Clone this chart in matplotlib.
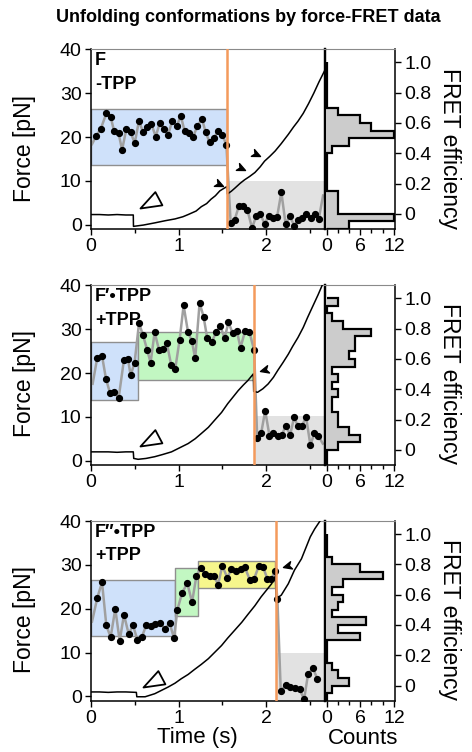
import numpy as np
import matplotlib
matplotlib.use('Agg')
import matplotlib.pyplot as plt
from matplotlib.path import Path
from matplotlib.markers import MarkerStyle
from matplotlib.transforms import Affine2D

plt.rcParams['font.family'] = ['Liberation Sans', 'DejaVu Sans']

# ---- force traces (s, pN) ----
top_force_t = [0.0, 0.1, 0.2, 0.3, 0.4, 0.485, 0.487, 0.6, 0.73, 0.85, 0.96, 1.05, 1.11, 1.2,
               1.26, 1.32, 1.37, 1.42, 1.47, 1.51, 1.553, 1.556, 1.6, 1.64, 1.7, 1.75, 1.81,
               1.87, 1.93, 1.98, 2.04, 2.1, 2.17, 2.25, 2.31, 2.36, 2.42, 2.48, 2.54, 2.6, 2.66]
top_force = [2.3, 2.3, 2.2, 2.3, 2.2, 2.2, -0.4, -0.1, 0.4, 0.9, 1.3, 1.8, 2.3, 3.1,
             4.1, 4.8, 5.8, 6.6, 7.7, 8.2, 8.7, 7.0, 7.6, 8.3, 9.4, 10.2, 11.0,
             11.9, 13.2, 14.5, 15.6, 16.8, 18.5, 20.6, 22.3, 23.6, 25.4, 27.6, 30.0, 32.6, 35.0]

mid_force_t = [0.0, 0.1, 0.2, 0.3, 0.4, 0.485, 0.49, 0.54, 0.63, 0.73, 0.82, 0.92, 1.01, 1.11,
               1.19, 1.26, 1.34, 1.41, 1.49, 1.56, 1.62, 1.68, 1.74, 1.79, 1.852, 1.856, 1.9,
               1.96, 2.02, 2.08, 2.13, 2.19, 2.25, 2.3, 2.36, 2.42, 2.47, 2.53, 2.59, 2.635]
mid_force = [2.0, 2.0, 2.0, 1.9, 2.0, 2.0, 0.5, 0.3, 0.5, 0.9, 1.4, 2.0, 2.9, 3.9,
             5.0, 6.2, 7.6, 9.2, 11.0, 13.0, 14.5, 16.0, 17.3, 18.3, 19.8, 15.8, 15.6,
             16.4, 17.5, 19.0, 20.6, 22.4, 24.3, 26.1, 28.1, 30.4, 32.7, 35.3, 37.9, 40.0]

bot_force_t = [0.0, 0.1, 0.2, 0.3, 0.4, 0.52, 0.525, 0.62, 0.73, 0.8, 0.88, 0.96, 1.03, 1.11,
               1.18, 1.26, 1.34, 1.41, 1.49, 1.56, 1.64, 1.72, 1.79, 1.87, 1.94, 2.0, 2.06,
               2.108, 2.112, 2.17, 2.25, 2.32, 2.4, 2.5, 2.55, 2.61]
bot_force = [1.0, 1.0, 0.9, 1.0, 1.0, 0.9, -0.1, -0.1, 0.6, 1.3, 2.1, 3.0, 4.0, 5.0,
             6.1, 7.3, 8.6, 10.0, 11.6, 13.3, 15.1, 16.9, 18.7, 20.7, 22.7, 24.2, 25.7,
             27.6, 22.3, 23.1, 25.7, 28.8, 31.4, 36.4, 38.2, 40.0]

# ---- FRET time traces ----
top_t = [0.015, 0.064, 0.114, 0.178, 0.227, 0.265, 0.318, 0.357, 0.406, 0.455, 0.501, 0.550,
         0.596, 0.645, 0.691, 0.740, 0.786, 0.835, 0.881, 0.930, 0.983, 1.025, 1.070, 1.116,
         1.169, 1.215, 1.268, 1.309, 1.355, 1.404, 1.450, 1.499, 1.545, 1.594, 1.640, 1.689,
         1.735, 1.784, 1.837, 1.886, 1.932, 1.981, 2.027, 2.076, 2.122, 2.171, 2.220, 2.266,
         2.316, 2.361, 2.410, 2.456, 2.505, 2.551, 2.597, 2.646]
top_fret = [0.46, 0.516, 0.560, 0.663, 0.641, 0.549, 0.531, 0.422, 0.560, 0.538, 0.466, 0.615,
            0.538, 0.576, 0.593, 0.510, 0.598, 0.560, 0.523, 0.615, 0.582, 0.648, 0.545, 0.534,
            0.510, 0.582, 0.626, 0.538, 0.472, 0.501, 0.545, 0.523, 0.455, -0.062, -0.038, 0.055,
            0.055, 0.028, -0.095, -0.011, -0.004, -0.066, -0.011, -0.026, -0.022, 0.143, -0.070,
            -0.011, -0.077, -0.040, -0.029, 0.000, -0.029, -0.004, -0.033, 0.121]

mid_t = [0.022, 0.075, 0.129, 0.174, 0.220, 0.265, 0.318, 0.379, 0.424, 0.455, 0.500, 0.550,
         0.595, 0.644, 0.682, 0.728, 0.777, 0.823, 0.868, 0.917, 0.963, 1.012, 1.058, 1.107,
         1.152, 1.190, 1.240, 1.285, 1.327, 1.380, 1.429, 1.475, 1.524, 1.569, 1.617, 1.664,
         1.706, 1.759, 1.808, 1.861, 1.896, 1.941, 1.987, 2.036, 2.081, 2.131, 2.176, 2.222,
         2.271, 2.316, 2.358, 2.404, 2.453, 2.502, 2.548, 2.593, 2.643]
mid_fret = [0.436, 0.609, 0.620, 0.469, 0.374, 0.385, 0.341, 0.596, 0.598, 0.492, 0.576, 0.836,
            0.758, 0.658, 0.576, 0.776, 0.662, 0.665, 0.702, 0.558, 0.536, 0.725, 0.953, 0.780,
            0.718, 0.603, 0.969, 0.880, 0.736, 0.714, 0.776, 0.820, 0.736, 0.842, 0.769, 0.785,
            0.674, 0.787, 0.776, 0.658, 0.077, 0.110, 0.258, 0.092, 0.114, 0.092, 0.099, 0.159,
            0.099, 0.214, 0.159, 0.159, 0.214, 0.030, 0.114, 0.092, 0.041]

bot_t = [0.015, 0.076, 0.129, 0.178, 0.227, 0.280, 0.330, 0.379, 0.432, 0.482, 0.531, 0.584,
         0.634, 0.683, 0.736, 0.793, 0.843, 0.899, 0.949, 0.987, 1.040, 1.100, 1.154, 1.203,
         1.252, 1.305, 1.355, 1.404, 1.450, 1.499, 1.556, 1.602, 1.659, 1.708, 1.754, 1.811,
         1.860, 1.913, 1.963, 2.012, 2.058, 2.096, 2.126, 2.164, 2.220, 2.274, 2.323, 2.380,
         2.430, 2.475, 2.532, 2.582]
bot_fret = [0.422, 0.581, 0.681, 0.397, 0.319, 0.506, 0.295, 0.467, 0.341, 0.397, 0.302, 0.323,
            0.401, 0.394, 0.405, 0.411, 0.374, 0.411, 0.312, 0.500, 0.610, 0.677, 0.549, 0.721,
            0.776, 0.738, 0.721, 0.725, 0.666, 0.791, 0.710, 0.770, 0.754, 0.770, 0.783, 0.699,
            0.703, 0.787, 0.783, 0.703, 0.703, 0.754, 0.571, -0.034, 0.003, -0.012, -0.014,
            -0.025, -0.091, 0.076, 0.114, 0.041]

# ---- FRET histograms ----
hist_edges = [-0.10, -0.05, 0.00, 0.05, 0.10, 0.15, 0.20, 0.25, 0.30, 0.35, 0.40, 0.45,
              0.50, 0.55, 0.60, 0.65, 0.70, 0.75, 0.80, 0.85, 0.90, 0.95, 1.00]
top_counts = [4, 12, 2, 2, 2, 0, 0, 0, 0, 0, 1, 4, 12, 8, 6, 2, 0, 0, 0, 0, 0, 0]
mid_counts = [0, 0, 2, 6, 4, 2, 2, 1, 1, 2, 1, 2, 1, 5, 4, 5, 5, 8, 3, 1, 0, 2]
bot_counts = [0, 1, 4, 2, 1, 0, 0, 0, 6, 2, 7, 1, 2, 3, 1, 3, 10, 6, 1, 0, 0, 0]

# ---- states (t start, t end, FRET low, FRET high), rupture times ----
top_states = [(0.0, 1.553, 0.323, 0.692, 'blue')]
mid_states = [(0.0, 0.538, 0.332, 0.709, 'blue'), (0.538, 1.854, 0.463, 0.780, 'green')]
bot_states = [(0.0, 0.964, 0.328, 0.699, 'blue'), (0.964, 1.222, 0.456, 0.776, 'green'),
              (1.222, 2.100, 0.644, 0.820, 'yellow')]
unfolded_top = [0.215, 0.221, 0.217]
ruptures = [1.553, 1.854, 2.11]

# arrowheads: open one marks the start of pulling, filled ones mark force features
open_tips = [(0.558, 3.9), (0.558, 3.3), (0.596, 2.1)]
filled_tips = [[(1.507, 8.8), (1.754, 12.5), (1.925, 15.7)], [(1.925, 20.4)], [(2.19, 29.6)]]
filled_angle = [-25, 195, 195]

labels = [('F', '-TPP'), ('F\u2032\u2022TPP', '+TPP'), ('F\u2033\u2022TPP', '+TPP')]

state_colors = {'blue': '#cfe1fa', 'green': '#c2f7c2', 'yellow': '#f6f68c'}

T_MAX = 2.668
F_LIM = (-1.0, 40.1)
E_LIM = (-0.1, 1.088)


def arrow_marker(angle, notch):
    if notch:
        verts = [(0, 0), (-1, 0.45), (-0.72, 0), (-1, -0.45), (0, 0)]
    else:
        verts = [(0, 0), (-1, 0.36), (-1, -0.36), (0, 0)]
    codes = [Path.MOVETO] + [Path.LINETO] * (len(verts) - 2) + [Path.CLOSEPOLY]
    return MarkerStyle(Path(verts, codes), transform=Affine2D().rotate_deg(angle))


fig = plt.figure(figsize=(4.72, 7.52), dpi=100)
W, H = 472.0, 752.0

panel_top_px = [49.0, 285.0, 520.7]
panel_h_px = 180.0
main_l, main_r, hist_r = 90.7, 325.0, 395.0

forces = [(top_force_t, top_force), (mid_force_t, mid_force), (bot_force_t, bot_force)]
frets = [(top_t, top_fret, slice(1, -1)), (mid_t, mid_fret, slice(1, -1)), (bot_t, bot_fret, slice(1, None))]
counts = [top_counts, mid_counts, bot_counts]
states = [top_states, mid_states, bot_states]

gray_spine = '#8a8a8a'
TICK_FS = 14

for i in range(3):
    top_px = panel_top_px[i]
    b = 1 - (top_px + panel_h_px) / H
    h = panel_h_px / H
    ax = fig.add_axes([main_l / W, b, (main_r - main_l) / W, h])
    ax2 = ax.twinx()
    hax = fig.add_axes([main_r / W, b, (hist_r - main_r) / W, h])

    # FRET layer (behind)
    ax2.set_ylim(*E_LIM)
    ax2.set_xlim(0, T_MAX)
    for (t0, t1, lo, hi, c) in states[i]:
        ax2.fill_between([t0, t1], lo, hi, facecolor=state_colors[c], edgecolor='#8f8f8f', lw=1.0, zorder=1)
    ax2.fill_between([ruptures[i], T_MAX], E_LIM[0], unfolded_top[i], facecolor='#e2e2e2',
                     edgecolor='none', zorder=1)
    ft, fv, dots = frets[i]
    ax2.plot(ft, fv, color='#a0a0a0', lw=1.8, zorder=3)
    ax2.plot(ft[dots], fv[dots], 'o', color='black', ms=4.2, zorder=4)
    ax2.set_yticks([])
    for s in ax2.spines.values():
        s.set_visible(False)

    # force layer (front)
    ax.set_zorder(ax2.get_zorder() + 1)
    ax.patch.set_visible(False)
    ax.plot(forces[i][0], forces[i][1], color='black', lw=1.1, zorder=5)
    ax.axvline(ruptures[i], color='#f49a5c', lw=1.8, zorder=6)
    ax.plot(*open_tips[i], marker=arrow_marker(208, False), ms=30, mfc='white', mec='black',
            mew=1.3, ls='none', zorder=7)
    for tip in filled_tips[i]:
        ax.plot(*tip, marker=arrow_marker(filled_angle[i], True), ms=12, color='black',
                ls='none', zorder=7)
    ax.set_xlim(0, T_MAX)
    ax.set_ylim(*F_LIM)
    ax.set_yticks([0, 10, 20, 30, 40])
    ax.set_xticks([0, 1, 2])
    ax.set_xticks([0.5, 1.5, 2.5], minor=True)
    ax.tick_params(which='both', direction='out', width=1.0, labelsize=TICK_FS, pad=2)
    ax.tick_params(which='major', length=4.5)
    ax.tick_params(which='minor', length=3)
    ax.spines['top'].set_color(gray_spine)
    ax.spines['right'].set_linewidth(1.6)
    for k in ['left', 'bottom']:
        ax.spines[k].set_linewidth(1.1)

    ax.text(0.018, 0.935, labels[i][0], transform=ax.transAxes, fontsize=13,
            fontweight='bold', ha='left', va='center', zorder=8)
    ax.text(0.018, 0.805, labels[i][1], transform=ax.transAxes, fontsize=13,
            fontweight='bold', ha='left', va='center', zorder=8)

    # histogram
    hax.stairs(counts[i], hist_edges, orientation='horizontal', baseline=0, fill=True,
               color='#cccccc')
    hax.stairs(counts[i], hist_edges, orientation='horizontal', baseline=0, fill=False,
               color='black', lw=1.6)
    hax.set_xlim(-0.3, 12.2)
    hax.set_ylim(*E_LIM)
    hax.set_xticks([0, 6, 12])
    hax.set_xticks([2, 4, 8, 10], minor=True)
    hax.yaxis.tick_right()
    hax.set_yticks([0, 0.2, 0.4, 0.6, 0.8, 1.0])
    hax.set_yticklabels(['0', '0.2', '0.4', '0.6', '0.8', '1.0'])
    hax.tick_params(which='both', direction='out', width=1.0, labelsize=TICK_FS, pad=2)
    hax.tick_params(which='major', length=4.5)
    hax.tick_params(which='minor', length=3)
    hax.spines['top'].set_color(gray_spine)
    hax.spines['left'].set_linewidth(1.6)
    hax.spines['right'].set_linewidth(1.1)
    hax.spines['bottom'].set_linewidth(1.1)

    cy = top_px + panel_h_px / 2 + 9
    fig.text(25 / W, 1 - cy / H, 'Force [pN]', rotation=90, ha='center', va='center', fontsize=16.5)
    fig.text(449 / W, 1 - cy / H, 'FRET efficiency', rotation=270, ha='center', va='center',
             fontsize=16.5)

fig.text(248 / W, 1 - 17 / H, 'Unfolding conformations by force-FRET data', ha='center',
         va='center', fontsize=13, fontweight='bold')
fig.text(197 / W, 1 - 738 / H, 'Time (s)', ha='center', va='center', fontsize=16)
fig.text(363 / W, 1 - 738 / H, 'Counts', ha='center', va='center', fontsize=16)

fig.savefig('out.png', dpi=100)
